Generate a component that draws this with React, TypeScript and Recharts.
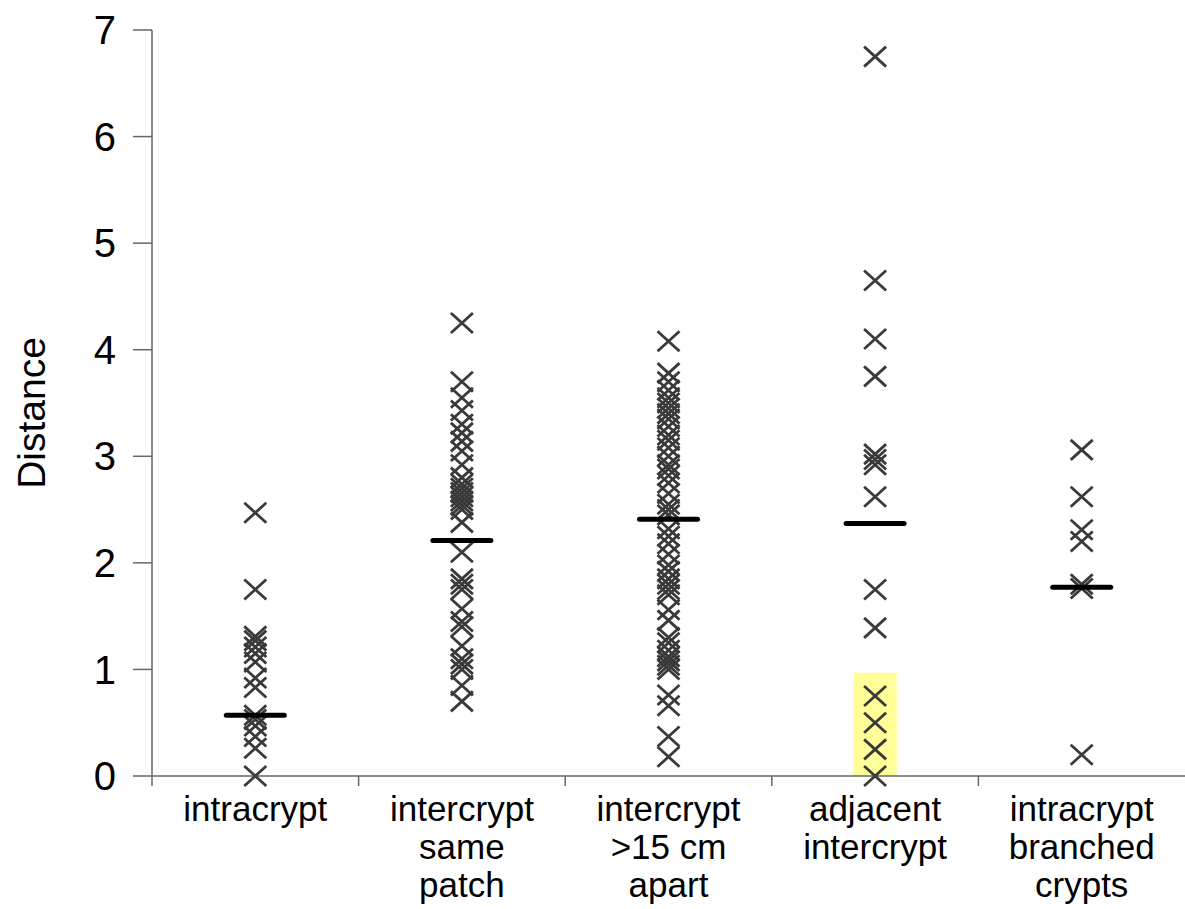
import { ScatterChart, Scatter, XAxis, YAxis, ReferenceArea } from "recharts"

const categories = ["intracrypt", "intercrypt same patch", "intercrypt >15 cm apart", "adjacent intercrypt", "intracrypt branched crypts"]
const categoryLines = [
  ["intracrypt"],
  ["intercrypt", "same", "patch"],
  ["intercrypt", ">15 cm", "apart"],
  ["adjacent", "intercrypt"],
  ["intracrypt", "branched", "crypts"],
]

const intracrypt = [2.47, 1.75, 1.31, 1.27, 1.21, 1.15, 1.07, 0.92, 0.83, 0.57, 0.53, 0.47, 0.37, 0.26, 0.0]
const samePatch = [
  4.25, 3.7, 3.55, 3.43, 3.3, 3.22, 3.14, 3.05, 2.92, 2.8, 2.74, 2.7, 2.66, 2.62, 2.58, 2.54, 2.5, 2.38, 2.1, 1.85,
  1.8, 1.75, 1.57, 1.45, 1.4, 1.22, 1.1, 1.05, 1.0, 0.85, 0.7,
]
const farApart = [
  4.08, 3.78, 3.7, 3.62, 3.55, 3.5, 3.45, 3.4, 3.35, 3.28, 3.2, 3.15, 3.08, 3.0, 2.92, 2.88, 2.82, 2.75, 2.65, 2.55,
  2.5, 2.45, 2.32, 2.25, 2.18, 2.08, 1.98, 1.92, 1.85, 1.8, 1.75, 1.7, 1.56, 1.46, 1.3, 1.25, 1.18, 1.12, 1.08, 1.04,
  1.0, 0.76, 0.66, 0.37, 0.18,
]
const adjacent = [6.75, 4.65, 4.1, 3.75, 3.02, 2.97, 2.92, 2.62, 1.75, 1.39, 0.75, 0.5, 0.25, 0.0]
const branched = [3.06, 2.62, 2.31, 2.2, 1.8, 1.76, 0.2]
const centerLines = [0.57, 2.21, 2.41, 2.37, 1.77]

const yTicks = [0, 1, 2, 3, 4, 5, 6, 7]

const series = [intracrypt, samePatch, farApart, adjacent, branched]
const points = series.flatMap((vals, i) => vals.map((v) => ({ x: i + 1, y: v })))
const lines = centerLines.map((v, i) => ({ x: i + 1, y: v, name: categories[i] }))

const font = "'Liberation Sans', Arial, Helvetica, sans-serif"

const Cross = (props: any) => {
  const { cx, cy } = props
  if (cx == null || cy == null) return null
  return (
    <path
      d={`M${cx - 11},${cy - 10}L${cx + 11},${cy + 10}M${cx - 11},${cy + 10}L${cx + 11},${cy - 10}`}
      stroke="#3a3a3a"
      strokeWidth={2.8}
      fill="none"
    />
  )
}

const Dash = (props: any) => {
  const { cx, cy } = props
  if (cx == null || cy == null) return null
  return <line x1={cx - 29} x2={cx + 29} y1={cy} y2={cy} stroke="#000" strokeWidth={5} strokeLinecap="round" />
}

const XTick = (props: any) => {
  const { x, y, payload } = props
  const v = payload.value
  if (!Number.isInteger(v)) {
    return <line x1={x} x2={x} y1={y} y2={y + 10} stroke="#666" strokeWidth={1.5} />
  }
  const rows = categoryLines[v - 1] || []
  return (
    <g>
      {rows.map((t, i) => (
        <text key={i} x={x} y={y + 45 + i * 38} textAnchor="middle" fontSize={35} fontFamily={font} fill="#000">
          {t}
        </text>
      ))}
    </g>
  )
}

const YLabel = () => (
  <text
    x={45}
    y={413}
    transform="rotate(-90, 45, 413)"
    textAnchor="middle"
    fontSize={39}
    fontFamily={font}
    fill="#000"
  >
    Distance
  </text>
)

export default function App() {
  return (
    <div style={{ width: 1185, height: 909 }}>
      <style>{`body{margin:0}`}</style>
      <ScatterChart width={1185} height={909} margin={{ top: 30, right: 0, bottom: 0, left: 0 }}>
        <XAxis
          type="number"
          dataKey="x"
          domain={[0.5, 5.5]}
          ticks={[0.5, 1, 1.5, 2, 2.5, 3, 3.5, 4, 4.5, 5]}
          interval={0}
          height={133}
          tickLine={false}
          tickSize={0}
          tickMargin={0}
          tick={<XTick />}
          axisLine={{ stroke: "#666", strokeWidth: 1.5 }}
          allowDataOverflow
        />
        <YAxis
          type="number"
          dataKey="y"
          domain={[0, 7]}
          ticks={yTicks}
          interval={0}
          width={152}
          tickSize={19}
          tickMargin={17}
          tick={{ fontSize: 40, fontFamily: font, fill: "#000" }}
          tickLine={{ stroke: "#666", strokeWidth: 1.5 }}
          axisLine={{ stroke: "#666", strokeWidth: 1.5 }}
          label={<YLabel />}
        />
        <ReferenceArea x1={3.895} x2={4.105} y1={0} y2={0.97} fill="#ffff99" fillOpacity={1} stroke="none" />
        <Scatter data={points} shape={<Cross />} isAnimationActive={false} />
        <Scatter data={lines} shape={<Dash />} isAnimationActive={false} />
      </ScatterChart>
    </div>
  )
}
